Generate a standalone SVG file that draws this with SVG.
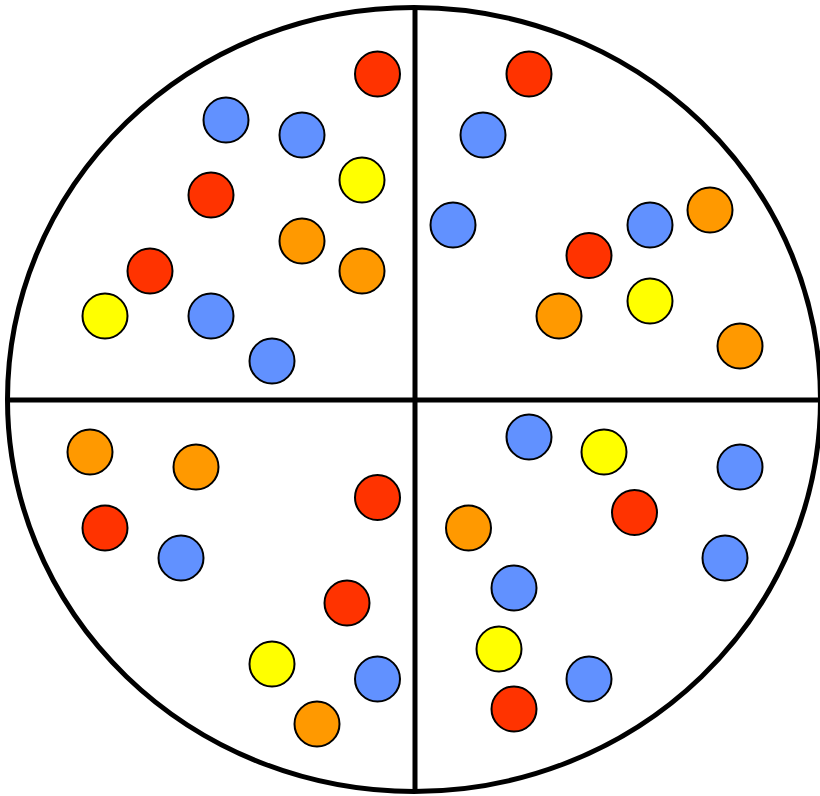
<svg xmlns="http://www.w3.org/2000/svg" width="820" height="796" viewBox="0 0 820 796">
<style>
.d{stroke:#000;stroke-width:2}
.r{fill:#FF3300}.b{fill:#6191FF}.o{fill:#FF9900}.y{fill:#FFFF00}
.ln{stroke:#000;stroke-width:5;fill:none}
</style>
<rect width="820" height="796" fill="#fff"/>
<g id="outline">
<ellipse class="ln" cx="414" cy="399.5" rx="406.5" ry="392"/>
<line class="ln" x1="415" y1="7" x2="415" y2="792"/>
<line class="ln" x1="7" y1="400" x2="820" y2="400"/>
</g>
<g id="dots">
<circle class="d r" cx="377.5" cy="74" r="22.5"/>
<circle class="d b" cx="226" cy="120" r="22.5"/>
<circle class="d b" cx="302" cy="135" r="22.5"/>
<circle class="d y" cx="362" cy="180" r="22.5"/>
<circle class="d r" cx="211" cy="195" r="22.5"/>
<circle class="d o" cx="302" cy="241" r="22.5"/>
<circle class="d o" cx="362" cy="271" r="22.5"/>
<circle class="d r" cx="150" cy="271" r="22.5"/>
<circle class="d y" cx="105" cy="316" r="22.5"/>
<circle class="d b" cx="211" cy="316" r="22.5"/>
<circle class="d b" cx="272" cy="361" r="22.5"/>

<circle class="d r" cx="529" cy="74" r="22.5"/>
<circle class="d b" cx="483" cy="135" r="22.5"/>
<circle class="d b" cx="453" cy="225" r="22.5"/>
<circle class="d b" cx="650" cy="225" r="22.5"/>
<circle class="d o" cx="710" cy="210" r="22.5"/>
<circle class="d r" cx="589" cy="255.5" r="22.5"/>
<circle class="d o" cx="559" cy="316" r="22.5"/>
<circle class="d y" cx="650" cy="301" r="22.5"/>
<circle class="d o" cx="740" cy="346" r="22.5"/>

<circle class="d o" cx="90" cy="452" r="22.5"/>
<circle class="d o" cx="196" cy="467" r="22.5"/>
<circle class="d r" cx="377.5" cy="497.5" r="22.5"/>
<circle class="d r" cx="105" cy="528" r="22.5"/>
<circle class="d b" cx="181" cy="558" r="22.5"/>
<circle class="d r" cx="347" cy="603" r="22.5"/>
<circle class="d y" cx="272" cy="664" r="22.5"/>
<circle class="d b" cx="377.5" cy="679" r="22.5"/>
<circle class="d o" cx="317" cy="724" r="22.5"/>

<circle class="d b" cx="529" cy="437" r="22.5"/>
<circle class="d y" cx="604" cy="452" r="22.5"/>
<circle class="d b" cx="740" cy="467" r="22.5"/>
<circle class="d r" cx="634.5" cy="512.5" r="22.5"/>
<circle class="d o" cx="468.5" cy="528" r="22.5"/>
<circle class="d b" cx="725" cy="558" r="22.5"/>
<circle class="d b" cx="514" cy="588" r="22.5"/>
<circle class="d y" cx="499" cy="649" r="22.5"/>
<circle class="d b" cx="589" cy="679" r="22.5"/>
<circle class="d r" cx="514" cy="709" r="22.5"/>
</g>
</svg>
